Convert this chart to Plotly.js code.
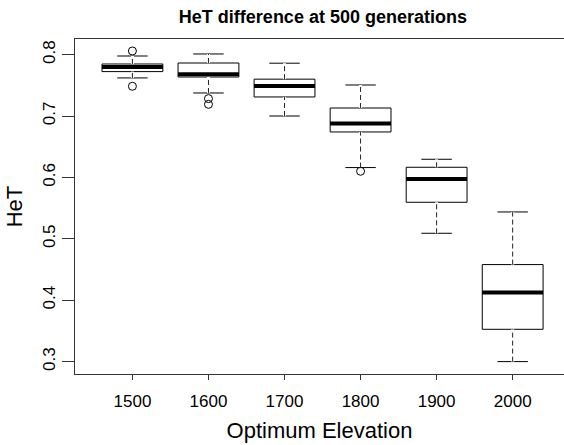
<!DOCTYPE html>
<html>
<head>
<meta charset="utf-8">
<script src="https://cdn.plot.ly/plotly-3.0.1.min.js"></script>
<style>html,body{margin:0;padding:0;background:#fff;}#chart{width:564px;height:445px;}</style>
</head>
<body>
<div id="chart"></div>
<script>
// Data
const categories = ["1500", "1600", "1700", "1800", "1900", "2000"];
const positions = [1, 2, 3, 4, 5, 6];
const lowerWhisker = [0.762, 0.7375, 0.700, 0.616, 0.509, 0.300];
const q1Values     = [0.7723, 0.7635, 0.731, 0.674, 0.5595, 0.3526];
const medians      = [0.7796, 0.768, 0.749, 0.6876, 0.5974, 0.4124];
const q3Values     = [0.7847, 0.7863, 0.760, 0.713, 0.6165, 0.458];
const upperWhisker = [0.7977, 0.801, 0.786, 0.7505, 0.6295, 0.5437];
const outlierPos   = [1, 1, 2, 2, 4];
const outlierVals  = [0.8059, 0.7484, 0.7283, 0.7190, 0.610];

const FONT = "Liberation Sans, Arial, Helvetica, sans-serif";
const halfBox = 0.4;

// segments derived from the data arrays
function segs(xl, xr, yl, yr) {
  const X = [], Y = [];
  for (let i = 0; i < positions.length; i++) {
    X.push(xl(i), xr(i), null);
    Y.push(yl(i), yr(i), null);
  }
  return {X, Y};
}
const medSeg = segs(i => positions[i] - halfBox, i => positions[i] + halfBox, i => medians[i], i => medians[i]);
const upSeg = segs(i => positions[i], i => positions[i], i => q3Values[i], i => upperWhisker[i]);
const loSeg = segs(i => positions[i], i => positions[i], i => lowerWhisker[i], i => q1Values[i]);
const stemX = upSeg.X.concat(loSeg.X);
const stemY = upSeg.Y.concat(loSeg.Y);

const traces = [
  {
    type: "box", orientation: "v",
    x: positions, q1: q1Values, median: medians, q3: q3Values,
    lowerfence: lowerWhisker, upperfence: upperWhisker,
    width: 0.8, whiskerwidth: 0.5, boxpoints: false,
    fillcolor: "white", line: {color: "black", width: 1},
    hoverinfo: "skip", showlegend: false
  },
  { type: "scatter", mode: "lines", x: stemX, y: stemY, line: {color: "white", width: 3},
    hoverinfo: "skip", showlegend: false },
  { type: "scatter", mode: "lines", x: stemX, y: stemY, line: {color: "#222", width: 1, dash: "5px,3px"},
    hoverinfo: "skip", showlegend: false },
  { type: "scatter", mode: "lines", x: medSeg.X, y: medSeg.Y, line: {color: "black", width: 4},
    hoverinfo: "skip", showlegend: false },
  { type: "scatter", mode: "markers", x: outlierPos, y: outlierVals,
    marker: {symbol: "circle-open", size: 8, color: "black", line: {width: 1}},
    hoverinfo: "skip", showlegend: false }
];

const layout = {
  width: 564, height: 445,
  margin: {l: 75, r: 0, t: 39, b: 71},
  paper_bgcolor: "white", plot_bgcolor: "white",
  font: {family: FONT, color: "black", size: 17},
  title: {text: "<b>HeT difference at 500 generations</b>", font: {size: 18, family: FONT, color: "black"},
          x: 0.507, xref: "paper", xanchor: "center", y: 0.962, yref: "container", yanchor: "middle"},
  xaxis: {
    range: [0.245, 6.675], showgrid: false, zeroline: false,
    showline: true, mirror: true, linecolor: "#333", linewidth: 1,
    ticks: "outside", ticklen: 5, tickcolor: "#333",
    tickvals: positions, ticktext: categories,
    tickfont: {size: 17}, ticklabelstandoff: 7,
    title: {text: "Optimum Elevation", font: {size: 22}, standoff: 12}
  },
  yaxis: {
    range: [0.2798, 0.8254], showgrid: false, zeroline: false,
    showline: true, mirror: false, linecolor: "#333", linewidth: 1,
    ticks: "outside", ticklen: 12, tickcolor: "#333",
    tickvals: [0.3, 0.4, 0.5, 0.6, 0.7, 0.8], ticktext: ["0.3", "0.4", "0.5", "0.6", "0.7", "0.8"],
    tickangle: -90, tickfont: {size: 17},
    title: {text: "HeT", font: {size: 22}, standoff: 11}
  }
};

Plotly.newPlot("chart", traces, layout, {staticPlot: true, displayModeBar: false});
</script>
</body>
</html>
